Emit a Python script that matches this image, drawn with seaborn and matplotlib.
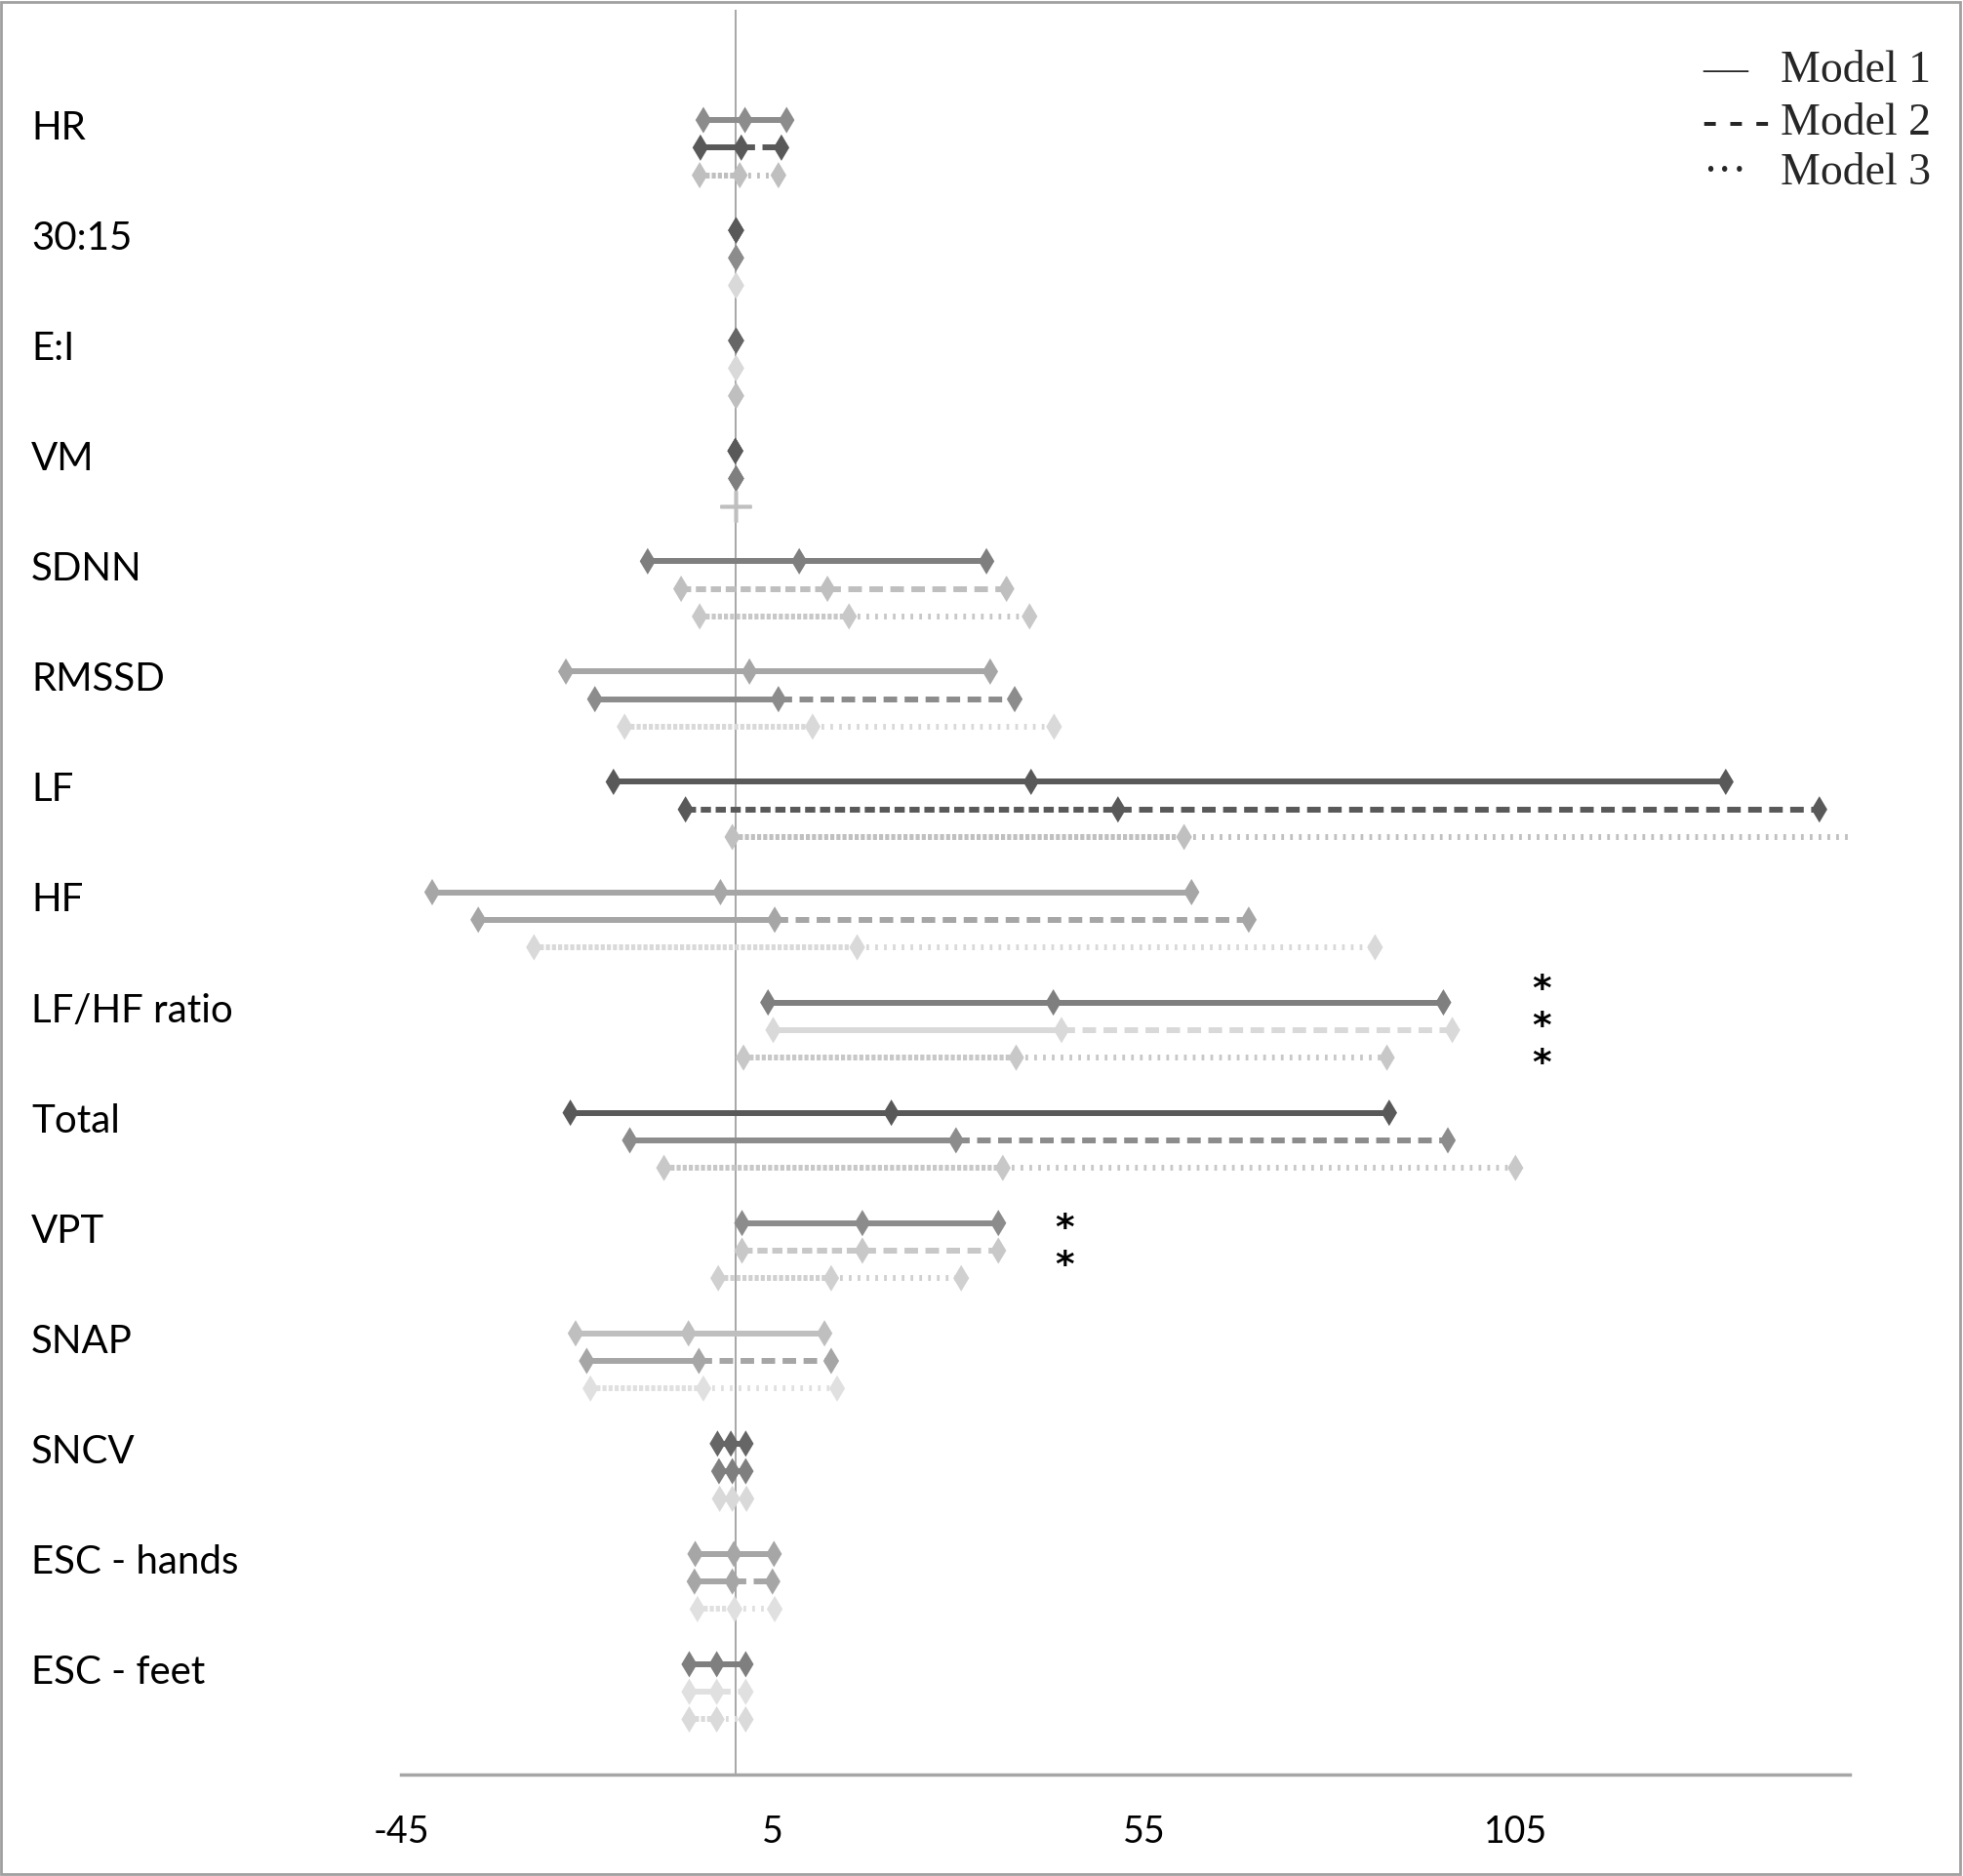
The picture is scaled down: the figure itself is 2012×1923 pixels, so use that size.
import matplotlib
matplotlib.use("Agg")
import matplotlib.pyplot as plt
from matplotlib.patches import Rectangle
import seaborn as sns
import pandas as pd

categories = ["HR", "30:15", "E:I", "VM", "SDNN", "RMSSD", "LF", "HF",
              "LF/HF ratio", "Total", "VPT", "SNAP", "SNCV", "ESC - hands", "ESC - feet"]

# lower, estimate, upper for each model
m1_low = [-4.3, 0.1, 0.1, 0.0, -11.8, -22.8, -16.4, -40.8, 4.4, -22.2, 0.9, -21.5, -2.4, -5.4, -6.2]
m1_est = [1.3, 0.1, 0.1, 0.0, 8.6, 1.9, 39.8, -2.0, 42.8, 21.0, 17.1, -6.3, -0.6, -0.2, -2.5]
m1_high = [6.9, 0.1, 0.1, 0.0, 33.8, 34.3, 133.3, 61.4, 95.3, 88.0, 35.4, 12.0, 1.4, 5.2, 1.4]

m2_low = [-4.7, 0.1, 0.1, 0.1, -7.3, -18.9, -6.7, -34.6, 5.1, -14.2, 0.9, -20.0, -2.2, -5.5, -6.2]
m2_est = [0.8, 0.1, 0.1, 0.1, 12.4, 5.8, 51.5, 5.3, 43.9, 29.7, 17.1, -4.9, -0.4, -0.4, -2.5]
m2_high = [6.2, 0.1, 0.1, 0.1, 36.5, 37.6, 145.9, 69.1, 96.5, 95.9, 35.4, 12.9, 1.4, 5.0, 1.4]

m3_low = [-4.8, 0.1, 0.1, 0.1, -4.8, -14.9, -0.4, -27.1, 1.1, -9.6, -2.3, -19.5, -2.1, -5.1, -6.2]
m3_est = [0.6, 0.1, 0.1, 0.1, 15.3, 10.4, 60.4, 16.4, 37.8, 36.0, 12.9, -4.3, -0.4, -0.1, -2.5]
m3_high = [5.8, 0.1, 0.1, 0.1, 39.6, 42.9, 152.0, 86.1, 87.7, 105.0, 30.4, 13.7, 1.5, 5.3, 1.4]

m1_color = ["#8c8c8c", "#595959", "#666666", "#595959", "#7f7f7f", "#a6a6a6", "#595959", "#a6a6a6",
            "#7f7f7f", "#595959", "#8c8c8c", "#bfbfbf", "#666666", "#a6a6a6", "#7f7f7f"]
m2_color = ["#595959", "#8c8c8c", "#d9d9d9", "#7f7f7f", "#bfbfbf", "#8c8c8c", "#595959", "#a6a6a6",
            "#d9d9d9", "#8c8c8c", "#c8c8c8", "#a6a6a6", "#7f7f7f", "#a6a6a6", "#e0e0e0"]
m3_color = ["#bfbfbf", "#d9d9d9", "#bfbfbf", "#bfbfbf", "#c8c8c8", "#d9d9d9", "#c0c0c0", "#d9d9d9",
            "#c8c8c8", "#c8c8c8", "#d0d0d0", "#e0e0e0", "#d9d9d9", "#e0e0e0", "#dadada"]

# model 2: is the lower half drawn dashed too (otherwise solid)
m2_left_dashed = [False, False, False, False, True, False, True, False,
                  False, False, True, False, False, False, False]

sig_categories = ["LF/HF ratio", "VPT"]
sig_counts = [3, 2]
sig_x = [108.5, 44.3]

x_ticks = [-45, 5, 55, 105]
model_names = ["Model 1", "Model 2", "Model 3"]
legend_marks = ["\u2014", "- - -", "\u00b7\u00b7\u00b7"]

sns.set_style("white")
plt.rcParams["font.family"] = ["Lato", "DejaVu Sans"]
plt.rcParams["lines.scale_dashes"] = False
plt.rcParams["axes.unicode_minus"] = False

LW = 4.3
DASH = (0, (10, 5.5))
DASH_DENSE = (0, (7.5, 3.5))
DOT = (0, (2, 4.5))
DOT_DENSE = (0, (3, 1.5))

models = [
    (m1_low, m1_est, m1_high, m1_color),
    (m2_low, m2_est, m2_high, m2_color),
    (m3_low, m3_est, m3_high, m3_color),
]

rows = []
for k, (low, est, high, col) in enumerate(models):
    for i, cat in enumerate(categories):
        pos = 4 * i + k
        for part, v in (("low", low[i]), ("est", est[i]), ("high", high[i])):
            rows.append({"category": cat, "model": model_names[k], "pos": pos,
                         "part": part, "value": v, "color": col[i]})
df = pd.DataFrame(rows)

fig = plt.figure(figsize=(20.12, 19.23), dpi=100)
ax = fig.add_axes([411 / 2012, 1 - 1819 / 1923, (1896 - 411) / 2012, (1819 - 10) / 1923])

# interval segments
for k, (low, est, high, col) in enumerate(models):
    for i in range(len(categories)):
        pos = 4 * i + k
        if k == 0:
            ls_l, ls_r = "-", "-"
        elif k == 1:
            ls_l = DASH_DENSE if m2_left_dashed[i] else "-"
            ls_r = DASH
        else:
            ls_l, ls_r = DOT_DENSE, DOT
        ax.plot([low[i], est[i]], [pos, pos], color=col[i], lw=LW, linestyle=ls_l,
                solid_capstyle="butt", dash_capstyle="butt", zorder=2)
        ax.plot([est[i], high[i]], [pos, pos], color=col[i], lw=LW, linestyle=ls_r,
                solid_capstyle="butt", dash_capstyle="butt", zorder=2)

# markers
plus_mask = (df["category"] == "VM") & (df["model"] == "Model 3")
diam = df[~plus_mask]
palette = {c: c for c in df["color"].unique()}
sns.scatterplot(data=diam, x="value", y="pos", hue="color", palette=palette,
                marker="d", s=190, linewidth=0, legend=False, ax=ax, zorder=3)
plus = df[plus_mask]
ax.scatter(plus["value"], plus["pos"], marker="+", s=500, color=plus["color"].iloc[0],
           linewidths=2.5, zorder=3)

ax.axvline(0, color="#a0a0a0", lw=1.3, zorder=1)

ax.set_xlim(-45, 150)
ax.set_ylim(60, -4)
ax.set_xticks(x_ticks)
ax.set_yticks([])
ax.set_xlabel("")
ax.set_ylabel("")
for side in ("top", "right", "left"):
    ax.spines[side].set_visible(False)
ax.spines["bottom"].set_color("#a6a6a6")
ax.spines["bottom"].set_linewidth(2.5)
ax.tick_params(axis="x", direction="out", length=9.5, width=1, color="#b0b0b0",
               pad=20, labelsize=27, labelcolor="black")

# category labels
for i, cat in enumerate(categories):
    ax.text(-0.2552, 4 * i + 0.3, cat, transform=ax.get_yaxis_transform(),
            ha="left", va="center", fontsize=29, color="black")

# significance stars
for cat, n, xs in zip(sig_categories, sig_counts, sig_x):
    i = categories.index(cat)
    ax.text(xs, 4 * i + 0.9, "\n".join(["*"] * n), ha="center", va="center",
            fontsize=27, fontweight="bold", color="black", linespacing=1.08,
            family=["DejaVu Sans"])

# legend drawn as text, like the original
leg_y = [1 - 73 / 1923, 1 - 127 / 1923, 1 - 178 / 1923]
for mark, name, y in zip(legend_marks, model_names, leg_y):
    fig.text(1745 / 2012, y, mark, ha="left", va="center", fontsize=33,
             family=["Liberation Serif", "DejaVu Serif"])
    fig.text(1825 / 2012, y, name, ha="left", va="center", fontsize=33,
             family=["Liberation Serif", "DejaVu Serif"])

fig.add_artist(Rectangle((0.0005, 0.001), 0.998, 0.998, transform=fig.transFigure,
                         fill=False, edgecolor="#a0a0a0", lw=2))

fig.savefig("out.png", dpi=100)
